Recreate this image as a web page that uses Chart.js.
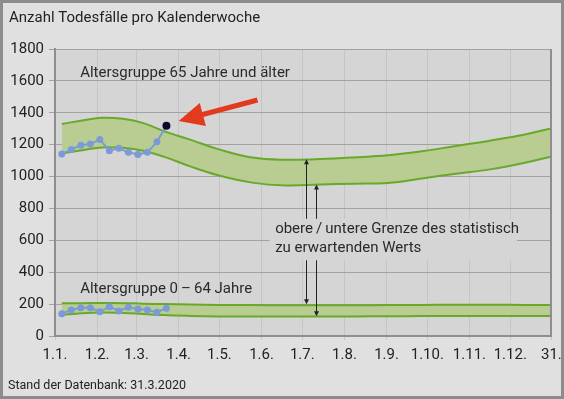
<!DOCTYPE html>
<html>
<head>
<meta charset="utf-8">
<script src="https://cdn.jsdelivr.net/npm/chart.js@4"></script>
<style>
  html, body { margin: 0; padding: 0; background: #e0e0e0; }
  #wrap { width: 564px; height: 399px; }
</style>
</head>
<body>
<div id="wrap"><canvas id="deathChart" width="564" height="399"></canvas></div>
<script>
// x axis: day of year, ticks at month starts
const monthDays = [0, 31, 60, 91, 121, 152, 182, 213, 244, 274, 305, 335, 365];
const monthLabels = ['1.1.', '1.2.', '1.3.', '1.4.', '1.5.', '1.6.', '1.7.', '1.8.', '1.9.', '1.10.', '1.11.', '1.12.', '31.12.'];

// expected range (upper/lower limit)
const bandDays = [5, 20, 35, 50, 65, 80, 100, 120, 145, 170, 195, 220, 245, 270, 295, 320, 345, 365];
const upper65 = [1330, 1352, 1369, 1362, 1335, 1285, 1230, 1172, 1119, 1105, 1110, 1120, 1133, 1158, 1192, 1225, 1262, 1302];
const lower65 = [1145, 1165, 1183, 1180, 1162, 1125, 1062, 1008, 962, 944, 950, 955, 960, 988, 1018, 1045, 1085, 1125];
const upper064 = [205, 206, 207, 206, 203, 200, 197, 195, 194, 193, 193, 193, 194, 195, 196, 196, 195, 194];
const lower064 = [132, 142, 147, 145, 138, 131, 126, 123, 122, 122, 122, 123, 124, 125, 126, 126, 125, 125];

// weekly deaths 2020
const weekDays = [5, 12, 19, 26, 33, 40, 47, 54, 61, 68, 75, 82];
const deaths65 = [1141, 1170, 1197, 1204, 1233, 1162, 1177, 1152, 1139, 1152, 1218, 1318];
const deaths064 = [140, 163, 177, 177, 152, 184, 157, 180, 169, 163, 149, 174];

const GREEN = '#6aa82a';
const BAND = '#b9cd93';
const BLUE = '#7b9ad8';

const pts = (xs, ys) => xs.map((x, i) => ({x: x, y: ys[i]}));

Chart.defaults.font.family = 'Roboto';
Chart.defaults.color = '#222';

const bandLine = (data, fill) => ({
  data: data,
  borderColor: GREEN,
  backgroundColor: BAND,
  borderWidth: 2,
  pointRadius: 0,
  tension: 0.4,
  fill: fill,
  order: 2
});

const weekLine = (data, lastColor) => ({
  data: data,
  borderColor: BLUE,
  backgroundColor: BLUE,
  borderWidth: 2,
  pointRadius: data.map((d, i) => (lastColor && i === data.length - 1) ? 4 : 3.5),
  pointBackgroundColor: data.map((d, i) => (lastColor && i === data.length - 1) ? lastColor : BLUE),
  pointBorderWidth: 0,
  fill: false,
  order: 0
});

// background, frame, title, notes
const decor = {
  id: 'decor',
  beforeDraw(chart) {
    const {ctx, chartArea: a} = chart;
    ctx.save();
    ctx.fillStyle = '#e0e0e0';
    ctx.fillRect(0, 0, chart.width, chart.height);
    ctx.fillStyle = '#d5d5d5';
    ctx.fillRect(a.left, a.top, a.right - a.left, a.bottom - a.top);
    ctx.restore();
  },
  beforeDatasetsDraw(chart) {
    // box behind the explanation text
    const {ctx, scales: {x, y}} = chart;
    ctx.save();
    ctx.fillStyle = '#d5d5d5';
    ctx.fillRect(x.getPixelForValue(158), y.getPixelForValue(735), x.getPixelForValue(340) - x.getPixelForValue(158), y.getPixelForValue(475) - y.getPixelForValue(735));
    ctx.restore();
  },
  afterDatasetsDraw(chart) {
    const {ctx, scales: {x, y}, chartArea: a} = chart;
    ctx.save();
    ctx.fillStyle = '#2a2a2a';
    ctx.font = '15px Roboto';
    ctx.textBaseline = 'middle';
    ctx.fillText('Altersgruppe 65 Jahre und älter', x.getPixelForValue(18.5), y.getPixelForValue(1650));
    ctx.fillText('Altersgruppe 0\u2009\u2013\u200964 Jahre', x.getPixelForValue(18.5), y.getPixelForValue(295));
    ctx.fillText('obere\u2009/\u2009untere Grenze des statistisch', x.getPixelForValue(162), y.getPixelForValue(672));
    ctx.fillText('zu erwartenden Werts', x.getPixelForValue(162), y.getPixelForValue(552));

    // thin arrows to the band limits
    const thin = (day, from, to) => {
      const px = Math.round(x.getPixelForValue(day)) + 0.5;
      const y0 = y.getPixelForValue(from), y1 = y.getPixelForValue(to);
      const dir = y1 < y0 ? 1 : -1;
      ctx.strokeStyle = '#222';
      ctx.lineWidth = 1;
      ctx.beginPath(); ctx.moveTo(px, y0); ctx.lineTo(px, y1 + dir * 3); ctx.stroke();
      ctx.fillStyle = '#222';
      ctx.beginPath();
      ctx.moveTo(px, y1); ctx.lineTo(px - 2.5, y1 + dir * 5); ctx.lineTo(px + 2.5, y1 + dir * 5);
      ctx.closePath(); ctx.fill();
    };
    thin(185, 735, 1108);
    thin(192, 735, 950);
    thin(185, 475, 199);
    thin(192, 475, 124);

    // red arrow to the latest value
    const tx = x.getPixelForValue(149), ty = y.getPixelForValue(1480);
    const hx = x.getPixelForValue(91), hy = y.getPixelForValue(1349);
    const ang = Math.atan2(hy - ty, hx - tx);
    const hl = 25, hw = 12;
    const bx = hx - Math.cos(ang) * hl, by = hy - Math.sin(ang) * hl;
    ctx.strokeStyle = '#e23a1e';
    ctx.fillStyle = '#e23a1e';
    ctx.lineWidth = 5;
    ctx.beginPath(); ctx.moveTo(tx, ty); ctx.lineTo(bx + Math.cos(ang) * 4, by + Math.sin(ang) * 4); ctx.stroke();
    ctx.beginPath();
    ctx.moveTo(hx, hy);
    ctx.lineTo(bx + Math.sin(ang) * hw, by - Math.cos(ang) * hw);
    ctx.lineTo(bx - Math.sin(ang) * hw, by + Math.cos(ang) * hw);
    ctx.closePath(); ctx.fill();

    // right frame of plot
    ctx.strokeStyle = '#8e8e8e';
    ctx.lineWidth = 2;
    ctx.beginPath(); ctx.moveTo(a.right, a.top); ctx.lineTo(a.right, a.bottom); ctx.stroke();
    ctx.restore();
  },
  afterDraw(chart) {
    const {ctx, scales: {x}} = chart;
    ctx.save();
    ctx.fillStyle = '#222';
    ctx.textBaseline = 'middle';
    ctx.font = '15px Roboto';
    ctx.fillText('Anzahl Todesfälle pro Kalenderwoche', 9, 18);
    // last x label sits partly under the frame
    ctx.save();
    ctx.beginPath(); ctx.rect(0, 0, 561, chart.height); ctx.clip();
    ctx.fillText(monthLabels[monthLabels.length - 1], x.getPixelForValue(365) - 10, 355);
    ctx.restore();
    ctx.font = '12.5px Roboto';
    ctx.fillText('Stand der Datenbank: 31.3.2020', 8, 386);
    ctx.strokeStyle = '#8c8c8c';
    ctx.lineWidth = 3;
    ctx.strokeRect(1.5, 1.5, chart.width - 3, chart.height - 3);
    ctx.restore();
  }
};

const ctx = document.getElementById('deathChart').getContext('2d');
new Chart(ctx, {
  type: 'line',
  data: {
    datasets: [
      weekLine(pts(weekDays, deaths65), '#0b0b25'),
      weekLine(pts(weekDays, deaths064), null),
      bandLine(pts(bandDays, upper65), '+1'),
      bandLine(pts(bandDays, lower65), false),
      bandLine(pts(bandDays, upper064), '+1'),
      bandLine(pts(bandDays, lower064), false)
    ]
  },
  options: {
    responsive: false,
    animation: false,
    events: [],
    layout: { autoPadding: false, padding: { top: 49, right: 13, left: 0, bottom: 0 } },
    plugins: {
      legend: { display: false },
      tooltip: { enabled: false },
      filler: { drawTime: 'beforeDatasetsDraw' }
    },
    scales: {
      x: {
        type: 'linear',
        min: 0,
        max: 365,
        afterBuildTicks: s => { s.ticks = monthDays.map(v => ({value: v})); },
        afterFit: s => { s.height = 63; },
        ticks: {
          autoSkip: false,
          maxRotation: 0,
          padding: 6,
          font: { size: 15 },
          // the last label is drawn by the decor plugin
          callback: v => (v === 365 ? '' : monthLabels[monthDays.indexOf(v)])
        },
        grid: { color: '#c5c5c5', tickLength: 4 },
        border: { color: '#8e8e8e', width: 2 }
      },
      y: {
        min: 0,
        max: 1800,
        afterFit: s => { s.width = 55; },
        ticks: { stepSize: 200, padding: 5, font: { size: 15 }, callback: v => String(v) },
        grid: { color: '#a2a2a2', tickLength: 6 },
        border: { color: '#8e8e8e', width: 2 }
      }
    }
  },
  plugins: [decor]
});
</script>
</body>
</html>
